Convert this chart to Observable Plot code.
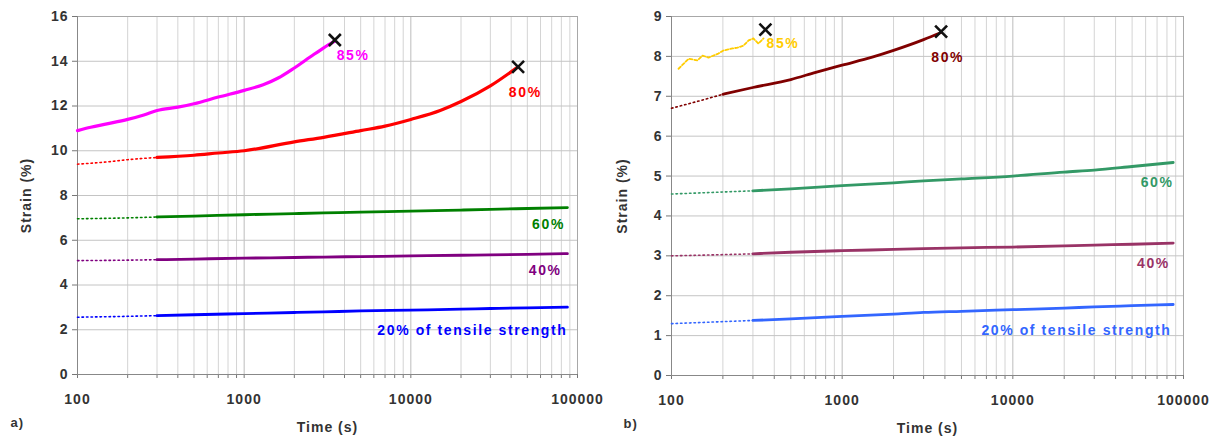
<!DOCTYPE html>
<html>
<head>
<meta charset="utf-8">
<script src="https://cdn.jsdelivr.net/npm/d3@7"></script>
<script src="https://cdn.jsdelivr.net/npm/@observablehq/plot@0.6"></script>
<style>
  html, body { margin: 0; padding: 0; background: #fff; }
  #wrap { display: flex; width: 1227px; height: 439px; }
  svg text { letter-spacing: 1px; }
  svg g.serieslabel text { letter-spacing: 1.6px; }
</style>
</head>
<body>
<div id="wrap"></div>
<script>
// ---------- Data ----------
const xTicksMajor = [100, 1000, 10000, 100000];
const yTicksA = [0, 2, 4, 6, 8, 10, 12, 14, 16];
const yTicksB = [0, 1, 2, 3, 4, 5, 6, 7, 8, 9];

// Panel a
const aT85 = [100, 120, 150, 200, 250, 300, 400, 500, 700, 1000, 1300, 1600, 2000, 2500, 3000, 3500];
const a85  = [10.9, 11.05, 11.2, 11.4, 11.6, 11.8, 11.95, 12.1, 12.4, 12.7, 12.95, 13.25, 13.7, 14.2, 14.6, 14.9];
const aT80 = [100, 150, 200, 300, 500, 700, 1000, 2000, 3000, 5000, 7000, 10000, 15000, 20000, 30000, 44000];
const a80  = [9.4, 9.5, 9.6, 9.7, 9.8, 9.9, 10.0, 10.4, 10.6, 10.9, 11.1, 11.4, 11.8, 12.2, 12.9, 13.75];
const tLong = [100, 200, 300, 500, 1000, 2000, 3000, 5000, 10000, 20000, 30000, 50000, 87000];
const a60 = [6.96, 7.0, 7.04, 7.08, 7.14, 7.19, 7.22, 7.26, 7.3, 7.35, 7.38, 7.42, 7.46];
const a40 = [5.09, 5.11, 5.13, 5.16, 5.2, 5.23, 5.25, 5.27, 5.3, 5.33, 5.35, 5.37, 5.4];
const a20 = [2.56, 2.6, 2.63, 2.67, 2.72, 2.77, 2.8, 2.84, 2.88, 2.92, 2.95, 2.98, 3.01];
const aFailT = [3500, 44000];
const aFailV = [14.95, 13.75];

// Panel b
const bT85 = [110, 126, 142, 152, 165, 188, 202, 228, 244, 264, 283, 302, 323, 346];
const b85  = [7.69, 7.94, 7.9, 8.02, 7.97, 8.07, 8.15, 8.2, 8.22, 8.27, 8.4, 8.45, 8.32, 8.45];
const bT80 = [100, 150, 200, 300, 500, 700, 1000, 1500, 2000, 3000, 3800];
const b80  = [6.7, 6.9, 7.05, 7.22, 7.42, 7.6, 7.78, 7.98, 8.15, 8.42, 8.6];
const b60 = [4.55, 4.6, 4.63, 4.68, 4.76, 4.83, 4.88, 4.93, 5.0, 5.1, 5.15, 5.24, 5.34];
const b40 = [3.0, 3.03, 3.05, 3.09, 3.13, 3.16, 3.18, 3.2, 3.22, 3.25, 3.27, 3.29, 3.32];
const b20 = [1.3, 1.35, 1.38, 1.42, 1.48, 1.54, 1.58, 1.61, 1.65, 1.69, 1.72, 1.75, 1.78];
const bFailT = [355, 3800];
const bFailV = [8.67, 8.62];

// Series labels: text, x (time), y (strain)
const aLabels = ["85%", "80%", "60%", "40%", "20% of tensile strength"];
const aLabelT = [4500, 48600, 67000, 64000, 87000];
const aLabelV = [14.25, 12.6, 6.7, 4.64, 1.96];
const bLabels = ["85%", "80%", "60%", "40%", "20% of tensile strength"];
const bLabelT = [450, 4150, 70000, 66700, 85000];
const bLabelV = [8.32, 7.97, 4.84, 2.81, 1.13];

// ---------- Styles ----------
const aColors = ["#FF00FF", "#FF0000", "#008000", "#800080", "#0000FF"];
const bColors = ["#FFCC00", "#800000", "#339966", "#993366", "#3366FF"];

const minorTicks = [];
for (let d = 100; d < 100000; d *= 10) for (let k = 2; k <= 9; k++) minorTicks.push(d * k);

function rows(ts, vs) { return ts.map((t, i) => ({t, v: vs[i]})); }

function seriesMarks(s) {
  const r = rows(s.t, s.v);
  const marks = [];
  const curve = s.curve || "monotone-x";
  if (s.dottedUntil) {
    marks.push(Plot.line(r.filter(d => d.t <= s.dottedUntil), {x: "t", y: "v", stroke: s.color, strokeWidth: 1.6, strokeDasharray: "1.5,3", curve}));
    marks.push(Plot.line(r.filter(d => d.t >= s.dottedUntil), {x: "t", y: "v", stroke: s.color, strokeWidth: s.width, curve}));
  } else {
    marks.push(Plot.line(r, {x: "t", y: "v", stroke: s.color, strokeWidth: s.width, strokeDasharray: s.dash, curve}));
  }
  return marks;
}

function panel(cfg) {
  const lab = cfg.labels.map((l, i) => ({l, t: cfg.labelT[i], v: cfg.labelV[i], c: cfg.colors[i]}));
  return Plot.plot({
    width: cfg.width,
    height: 439,
    marginTop: 16,
    marginBottom: cfg.marginBottom,
    marginLeft: cfg.marginLeft,
    marginRight: cfg.marginRight,
    x: {type: "log", domain: [100, 100000]},
    y: {domain: [0, cfg.ymax]},
    style: {fontFamily: "'Liberation Sans', Arial, sans-serif", fontWeight: "bold", fontSize: "14px", color: "#333", background: "#fff", overflow: "visible"},
    marks: [
      Plot.gridX(minorTicks, {stroke: "#d4d4d4", strokeOpacity: 1}),
      Plot.gridX(xTicksMajor, {stroke: "#bdbdbd", strokeOpacity: 1}),
      Plot.gridY(cfg.yTicks, {stroke: "#c4c4c4", strokeOpacity: 1}),
      Plot.frame({stroke: "#a8a8a8"}),
      Plot.axisY({ticks: cfg.yTicks, tickSize: 5, tickPadding: 4, stroke: "#777", label: "Strain (%)", labelAnchor: "center", labelArrow: "none", labelOffset: cfg.yLabelOffset, fontSize: 14}),
      Plot.axisX({ticks: minorTicks, tickSize: 4, tickFormat: () => "", stroke: "#777", label: null}),
      Plot.axisX({ticks: xTicksMajor, tickSize: 4, tickPadding: 16, tickFormat: d => String(d), stroke: "#777", label: "Time (s)", labelAnchor: "center", labelArrow: "none", labelOffset: 57, fontSize: 14}),
      Plot.ruleY([0], {stroke: "#888"}),
      Plot.ruleX([100], {stroke: "#888"}),
      ...cfg.series.flatMap(seriesMarks),
      Plot.dot(rows(cfg.failT, cfg.failV), {x: "t", y: "v", symbol: "times", r: 5.5, stroke: "#111", strokeWidth: 2.6}),
      Plot.text(lab.slice(0, 4), {x: "t", y: "v", text: "l", fill: "c", textAnchor: "middle", fontSize: 14, fontWeight: "bold", className: "serieslabel"}),
      Plot.text(lab.slice(4), {x: "t", y: "v", text: "l", fill: "c", textAnchor: "end", fontSize: 14, fontWeight: "bold", className: "serieslabel"}),
      Plot.text([cfg.tag], {frameAnchor: "bottom-left", dx: cfg.tagDx, dy: 52, textAnchor: "start", fontSize: 13, fill: "#333"})
    ]
  });
}

const wrap = document.getElementById("wrap");
wrap.appendChild(panel({
  width: 613, marginLeft: 77, marginRight: 36, marginBottom: 65, ymax: 16, yTicks: yTicksA, yLabelOffset: 56,
  colors: aColors, labels: aLabels, labelT: aLabelT, labelV: aLabelV, failT: aFailT, failV: aFailV,
  tag: "a)", tagDx: -67,
  series: [
    {t: aT85, v: a85, color: aColors[0], width: 3.2},
    {t: aT80, v: a80, color: aColors[1], width: 3.2, dottedUntil: 300},
    {t: tLong, v: a60, color: aColors[2], width: 2.8, dottedUntil: 300},
    {t: tLong, v: a40, color: aColors[3], width: 2.8, dottedUntil: 300},
    {t: tLong, v: a20, color: aColors[4], width: 2.8, dottedUntil: 300}
  ]
}));
wrap.appendChild(panel({
  width: 614, marginLeft: 58, marginRight: 44, marginBottom: 64, ymax: 9, yTicks: yTicksB, yLabelOffset: 54,
  colors: bColors, labels: bLabels, labelT: bLabelT, labelV: bLabelV, failT: bFailT, failV: bFailV,
  tag: "b)", tagDx: -48,
  series: [
    {t: bT85, v: b85, color: bColors[0], width: 1.8, dash: "3,2", curve: "linear"},
    {t: bT80, v: b80, color: bColors[1], width: 2.8, dottedUntil: 200},
    {t: tLong, v: b60, color: bColors[2], width: 2.8, dottedUntil: 300},
    {t: tLong, v: b40, color: bColors[3], width: 2.8, dottedUntil: 300},
    {t: tLong, v: b20, color: bColors[4], width: 2.8, dottedUntil: 300}
  ]
}));
</script>
</body>
</html>
